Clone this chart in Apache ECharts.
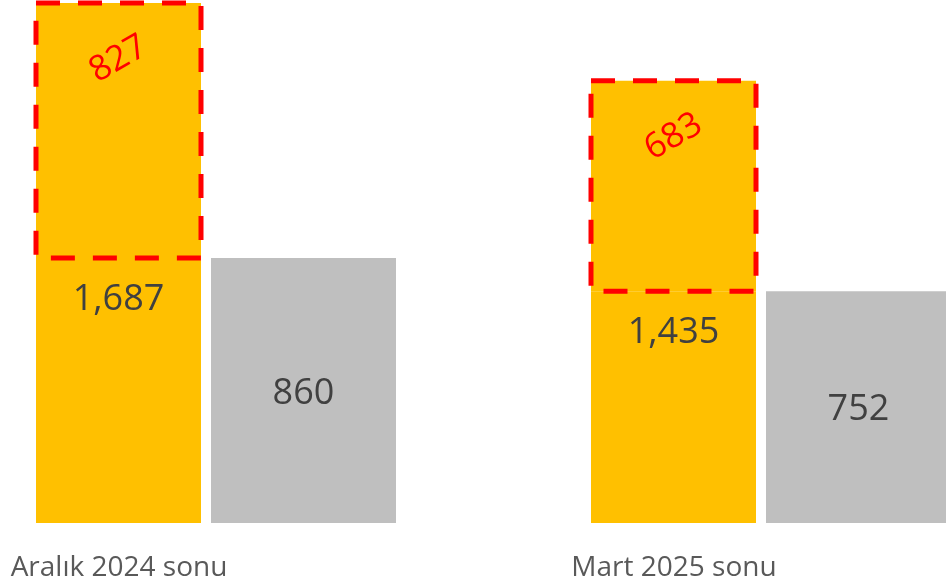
<!DOCTYPE html>
<html><head><meta charset="utf-8">
<script src="https://cdn.jsdelivr.net/npm/echarts@6/dist/echarts.min.js"></script>
<style>html,body{margin:0;padding:0;background:#fff}#c{width:946px;height:581px}</style>
</head><body><div id="c"></div>
<script>
const categories = ['Aralık 2024 sonu', 'Mart 2025 sonu'];
const totals = [1687, 1435];
const grayValues = [860, 752];
const diffValues = [827, 683];

const YELLOW_W = 165, GRAY_W = 185, GAP = 10;
const chart = echarts.init(document.getElementById('c'), null, {renderer: 'canvas'});
const FONT = '"Open Sans", "Noto Sans", sans-serif';
chart.setOption({
  animation: false,
  backgroundColor: '#ffffff',
  grid: {left: -61.5, right: -102.5, top: 0, bottom: 58, outerBoundsMode: 'none', containLabel: false},
  xAxis: {
    type: 'category',
    data: categories,
    axisLine: {show: false},
    axisTick: {show: false},
    splitLine: {show: false},
    axisLabel: {
      fontFamily: FONT, fontSize: 28, color: '#595959', margin: 31,
      padding: [0, 194, 0, 0], interval: 0
    }
  },
  yAxis: {type: 'value', min: 0, max: 1697, show: false, splitLine: {show: false}},
  series: [
    {
      name: 'base', type: 'bar', stack: 'y', barWidth: YELLOW_W, barGap: (GAP / YELLOW_W * 100) + '%',
      data: grayValues,
      itemStyle: {color: '#FFC000'},
      label: {
        show: true, position: ['50%', 42], align: 'center', verticalAlign: 'middle',
        fontFamily: FONT, fontSize: 36, color: '#404040',
        formatter: p => totals[p.dataIndex].toLocaleString('en-US')
      }
    },
    {
      name: 'diff', type: 'bar', stack: 'y', barWidth: YELLOW_W, barGap: (GAP / YELLOW_W * 100) + '%',
      data: diffValues,
      itemStyle: {color: '#FFC000'},
      label: {
        show: true, position: ['50%', 56], align: 'center', verticalAlign: 'middle', rotate: 30,
        fontFamily: FONT, fontSize: 35, color: '#FF0000',
        formatter: p => String(diffValues[p.dataIndex])
      }
    },
    {
      name: 'gray', type: 'bar', barWidth: GRAY_W, barGap: (GAP / YELLOW_W * 100) + '%',
      data: grayValues,
      itemStyle: {color: '#BFBFBF'},
      label: {
        show: true, position: 'inside', offset: [0, 3],
        fontFamily: FONT, fontSize: 36, color: '#404040',
        formatter: p => grayValues[p.dataIndex].toLocaleString('en-US')
      }
    },
    {
      name: 'box', type: 'custom', z: 10, silent: true,
      data: categories.map((c, i) => [i, grayValues[i], totals[i]]),
      encode: {x: 0, y: [1, 2]},
      renderItem: function (params, api) {
        const i = api.value(0);
        const low = api.coord([i, api.value(1)]);
        const high = api.coord([i, api.value(2)]);
        const left = low[0] - (YELLOW_W + GAP + GRAY_W) / 2;
        return {
          type: 'rect',
          shape: {x: left, y: high[1], width: YELLOW_W, height: low[1] - high[1]},
          style: {fill: 'none', stroke: '#FF0000', lineWidth: 5, lineDash: [24, 18], lineCap: 'butt'}
        };
      }
    }
  ]
});
</script></body></html>
